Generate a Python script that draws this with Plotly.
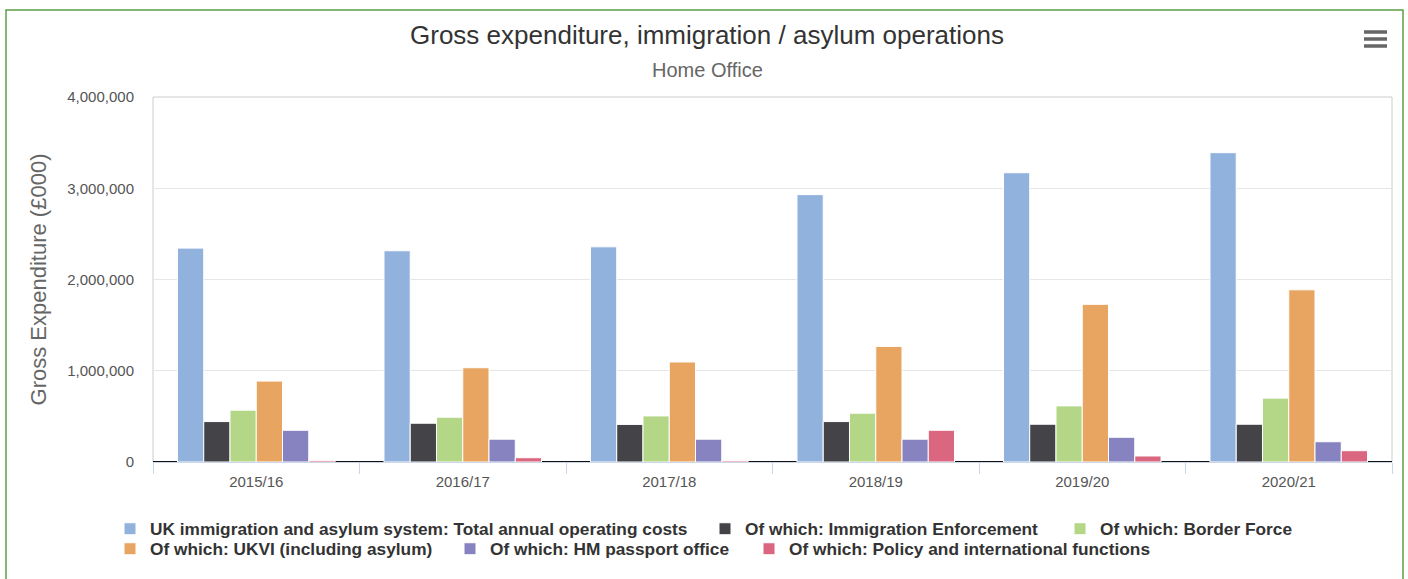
import plotly.graph_objects as go

categories = ["2015/16", "2016/17", "2017/18", "2018/19", "2019/20", "2020/21"]

series_names = [
    "UK immigration and asylum system: Total annual operating costs",
    "Of which: Immigration Enforcement",
    "Of which: Border Force",
    "Of which: UKVI (including asylum)",
    "Of which: HM passport office",
    "Of which: Policy and international functions",
]

total_costs = [2344000, 2315000, 2358000, 2930000, 3170000, 3390000]
immigration_enforcement = [443000, 425000, 412000, 443000, 414000, 414000]
border_force = [568000, 491000, 505000, 535000, 615000, 700000]
ukvi = [887000, 1033000, 1096000, 1267000, 1728000, 1887000]
passport_office = [348000, 250000, 250000, 250000, 271000, 222000]
policy_international = [18000, 47000, 15000, 348000, 66000, 124000]

series_values = [total_costs, immigration_enforcement, border_force,
                 ukvi, passport_office, policy_international]
colors = ["#92b2de", "#434348", "#b3d687", "#e8a562", "#8683c0", "#db6680"]

W, H = 1408, 579
L, R, T, B = 153, 16, 97, 117

# legend entry placement (pixel left edge of each entry, row top)
legend_ids = ["legend", "legend2", "legend3", "legend4", "legend5", "legend6"]
legend_px = [(110, 511), (705, 511), (1060, 511), (110, 531), (450, 531), (749, 531)]

fig = go.Figure()
for name, vals, col, lg in zip(series_names, series_values, colors, legend_ids):
    fig.add_trace(go.Bar(
        x=categories, y=vals, name=name, legend=lg,
        marker=dict(color=col, line=dict(color="white", width=1)),
    ))

font = "Liberation Sans, Arial, sans-serif"

pw = W - L - R
ph = H - T - B
def px_x(x):
    return (x - L) / pw
def px_y(y):
    return (H - B - y) / ph

shapes = [
    # outer green frame
    dict(type="rect", xref="paper", yref="paper",
         x0=px_x(6), x1=px_x(1403), y0=px_y(600), y1=px_y(10),
         line=dict(color="#5b9e45", width=1.5), fillcolor="rgba(0,0,0,0)", layer="below"),
    # plot border
    dict(type="rect", xref="paper", yref="paper", x0=0, x1=1, y0=0, y1=1,
         line=dict(color="#cccccc", width=1), fillcolor="rgba(0,0,0,0)", layer="below"),
]
# hamburger icon
for yy in (32, 39, 46):
    shapes.append(dict(type="line", xref="paper", yref="paper",
                       x0=px_x(1364), x1=px_x(1387), y0=px_y(yy), y1=px_y(yy),
                       line=dict(color="#666666", width=3.5)))

legend_common = dict(
    orientation="h", xref="paper", yref="paper", xanchor="left", yanchor="top",
    font=dict(size=17.3, color="#333333", family=font, weight="bold"),
    bgcolor="rgba(0,0,0,0)", borderwidth=0, itemwidth=30,
)
legends = {lid: dict(x=px_x(lx), y=px_y(ly), **legend_common)
           for lid, (lx, ly) in zip(legend_ids, legend_px)}

fig.update_layout(
    width=W, height=H,
    margin=dict(l=L, r=R, t=T, b=B, pad=0, autoexpand=False),
    paper_bgcolor="white", plot_bgcolor="white",
    font=dict(family=font, color="#333333"),
    barmode="group", bargap=0.237, bargroupgap=0,
    title=dict(text="Gross expenditure, immigration / asylum operations",
               x=707 / W, xanchor="center", xref="container",
               y=1 - 35 / H, yanchor="middle", yref="container",
               font=dict(size=26, color="#333333", family=font)),
    annotations=[dict(text="Home Office", xref="paper", yref="paper",
                      x=px_x(707), y=px_y(70), xanchor="center", yanchor="middle",
                      showarrow=False, font=dict(size=20, color="#666666", family=font))],
    xaxis=dict(
        type="category", showgrid=False, showline=True, linecolor="#ccd6eb", linewidth=1,
        ticks="outside", tickson="boundaries", ticklen=11, tickcolor="#ccd6eb",
        ticklabelstandoff=6,
        tickfont=dict(size=15, color="#555555", family=font),
        zeroline=False,
    ),
    yaxis=dict(
        range=[0, 4000000], dtick=1000000, tickformat=",d",
        showgrid=True, gridcolor="#e6e6e6", gridwidth=1,
        zeroline=True, zerolinecolor="#111111", zerolinewidth=2,
        showline=False, ticks="", ticklabelstandoff=18,
        tickfont=dict(size=15, color="#555555", family=font),
        title=dict(text="Gross Expenditure (£000)", standoff=14,
                   font=dict(size=22, color="#666666", family=font)),
    ),
    shapes=shapes,
    showlegend=True,
    **legends,
)

fig.write_html("out.html", config={"displayModeBar": False},
               post_script="document.body.style.margin='0';document.body.style.padding='0';")
